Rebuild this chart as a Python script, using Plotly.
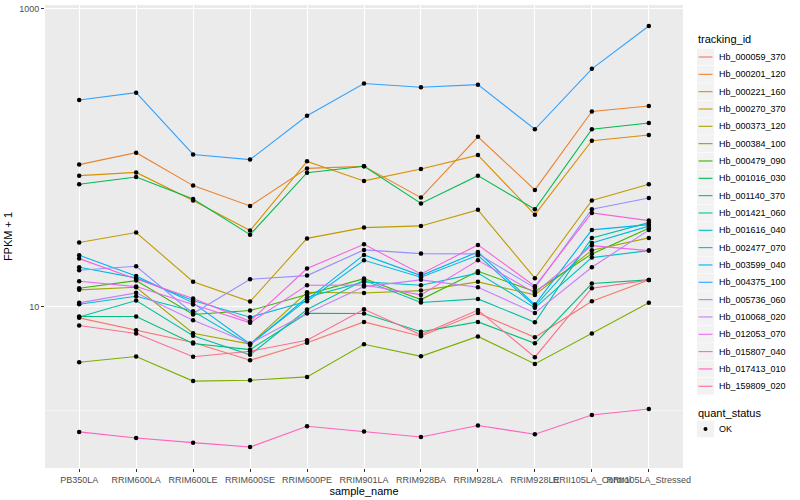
import plotly.graph_objects as go

samples = ["PB350LA", "RRIM600LA", "RRIM600LE", "RRIM600SE", "RRIM600PE", "RRIM901LA",
           "RRIM928BA", "RRIM928LA", "RRIM928LE", "RRII105LA_Control", "RRII105LA_Stressed"]

tracking_ids = ["Hb_000059_370", "Hb_000201_120", "Hb_000221_160", "Hb_000270_370", "Hb_000373_120",
                "Hb_000384_100", "Hb_000479_090", "Hb_001016_030", "Hb_001140_370", "Hb_001421_060",
                "Hb_001616_040", "Hb_002477_070", "Hb_003599_040", "Hb_004375_100", "Hb_005736_060",
                "Hb_010068_020", "Hb_012053_070", "Hb_015807_040", "Hb_017413_010", "Hb_159809_020"]

# FPKM + 1 values per tracking_id, in sample order
hb_000059_370 = [8.40, 6.93, 5.73, 4.36, 5.71, 7.89, 6.32, 9.04, 6.22, 10.85, 15.06]
hb_000201_120 = [89.8, 108, 64.9, 47.4, 84.7, 87.4, 53.9, 138, 60.7, 204, 222]
hb_000221_160 = [75.7, 79.6, 51.6, 32.4, 94.4, 69.8, 83.9, 104, 41.4, 130, 142]
hb_000270_370 = [26.9, 31.4, 14.7, 10.8, 28.7, 33.9, 34.8, 44.6, 15.5, 51.6, 66.2]
hb_000373_120 = [12.95, 13.48, 6.62, 5.60, 12.47, 12.32, 12.80, 14.65, 11.98, 23.87, 28.92]
hb_000384_100 = [4.23, 4.62, 3.16, 3.20, 3.37, 5.58, 4.63, 6.30, 4.12, 6.59, 10.6]
hb_000479_090 = [13.27, 14.94, 8.84, 9.40, 12.04, 15.41, 11.14, 17.25, 12.61, 22.58, 33.54]
hb_001016_030 = [66.2, 74.2, 52.8, 30.4, 79.3, 87.5, 49.3, 75.7, 45.0, 155, 171]
hb_001140_370 = [8.57, 8.57, 5.65, 5.14, 9.02, 8.98, 6.77, 7.89, 5.67, 14.27, 15.1]
hb_001421_060 = [8.50, 10.97, 6.36, 4.74, 9.55, 15.01, 10.64, 11.26, 7.85, 28.92, 36.63]
hb_001616_040 = [10.36, 11.73, 9.30, 5.53, 11.54, 14.65, 13.90, 16.78, 9.80, 21.32, 23.75]
hb_002477_070 = [18.36, 15.58, 10.97, 8.48, 10.85, 20.45, 15.73, 22.10, 10.05, 26.76, 34.69]
hb_003599_040 = [22.10, 16.07, 10.59, 5.60, 11.14, 22.23, 16.14, 23.28, 10.31, 32.72, 35.50]
hb_004375_100 = [244, 273, 105, 97, 191, 315, 297, 309, 155, 395, 766]
hb_005736_060 = [17.52, 18.64, 8.98, 15.25, 16.14, 24.01, 22.68, 22.58, 13.35, 44.98, 53.63]
hb_010068_020 = [10.59, 12.36, 8.09, 5.65, 9.02, 13.62, 15.11, 13.48, 9.07, 18.36, 32.62]
hb_012053_070 = [14.78, 13.62, 10.31, 7.78, 13.90, 13.95, 11.98, 20.45, 12.36, 25.67, 23.75]
hb_015807_040 = [20.99, 15.30, 11.32, 7.97, 17.99, 26.19, 16.58, 25.95, 13.69, 42.55, 37.78]
hb_017413_010 = [1.44, 1.31, 1.22, 1.14, 1.57, 1.45, 1.33, 1.59, 1.39, 1.87, 2.05]
hb_159809_020 = [7.46, 6.59, 4.60, 5.01, 5.94, 9.59, 6.46, 9.47, 4.57, 13.27, 15.06]

series = [hb_000059_370, hb_000201_120, hb_000221_160, hb_000270_370, hb_000373_120,
          hb_000384_100, hb_000479_090, hb_001016_030, hb_001140_370, hb_001421_060,
          hb_001616_040, hb_002477_070, hb_003599_040, hb_004375_100, hb_005736_060,
          hb_010068_020, hb_012053_070, hb_015807_040, hb_017413_010, hb_159809_020]

colors = ["#F8766D", "#EA8331", "#D89000", "#C09B00", "#A3A500", "#7CAE00", "#39B600", "#00BB4E",
          "#00BF7D", "#00C1A3", "#00BFC4", "#00BAE0", "#00B0F6", "#35A2FF", "#9590FF", "#C77CFF",
          "#E76BF3", "#FA62DB", "#FF62BC", "#FF6C91"]

quant_status = "OK"

FONT = "Liberation Sans, Arial, Helvetica, sans-serif"

# plot area in pixels (for placing the hand-drawn legend)
L, R, T, B = 45, 683, 5, 468


def px(xp):
    return (xp - L) / (R - L)


def py(yp):
    return (B - yp) / (B - T)


fig = go.Figure()
for name, vals, col in zip(tracking_ids, series, colors):
    fig.add_trace(go.Scatter(x=samples, y=vals, mode="lines", name=name,
                             line=dict(color=col, width=1.1), showlegend=False))

all_x = [s for vals in series for s in samples]
all_y = [v for vals in series for v in vals]
fig.add_trace(go.Scatter(x=all_x, y=all_y, mode="markers", name=quant_status,
                         marker=dict(color="black", size=4.5, symbol="circle"),
                         showlegend=False))

# minor grid lines (log units for shapes on log axis)
for lv in [0, 2]:
    fig.add_shape(type="line", xref="paper", yref="y", x0=0, x1=1, y0=lv, y1=lv,
                  line=dict(color="white", width=0.55), layer="below")

annots = []
# legend: tracking_id
annots.append(dict(x=px(696), y=py(39), xref="paper", yref="paper", text="tracking_id",
                   showarrow=False, xanchor="left", yanchor="middle",
                   font=dict(family=FONT, size=11, color="black")))
step = 17.33
for i, (name, col) in enumerate(zip(tracking_ids, colors)):
    cy = 57 + step * i
    fig.add_shape(type="rect", xref="paper", yref="paper",
                  x0=px(697), x1=px(714), y0=py(cy - 8.4), y1=py(cy + 8.4),
                  fillcolor="#F2F2F2", line=dict(width=0))
    fig.add_shape(type="line", xref="paper", yref="paper",
                  x0=px(698.5), x1=px(712.5), y0=py(cy), y1=py(cy),
                  line=dict(color=col, width=1.1))
    annots.append(dict(x=px(716.5), y=py(cy), xref="paper", yref="paper", text=name,
                       showarrow=False, xanchor="left", yanchor="middle",
                       font=dict(family=FONT, size=9, color="black")))

# legend: quant_status
annots.append(dict(x=px(696), y=py(412.5), xref="paper", yref="paper", text="quant_status",
                   showarrow=False, xanchor="left", yanchor="middle",
                   font=dict(family=FONT, size=11, color="black")))
cy = 429
fig.add_shape(type="rect", xref="paper", yref="paper",
              x0=px(697), x1=px(714), y0=py(cy - 8.4), y1=py(cy + 8.4),
              fillcolor="#F2F2F2", line=dict(width=0))
fig.add_shape(type="circle", xref="paper", yref="paper",
              x0=px(703.5), x1=px(707.5), y0=py(cy + 2), y1=py(cy - 2),
              fillcolor="black", line=dict(width=0))
annots.append(dict(x=px(716.5), y=py(cy), xref="paper", yref="paper", text=quant_status,
                   showarrow=False, xanchor="left", yanchor="middle",
                   font=dict(family=FONT, size=9, color="black")))

fig.update_layout(
    width=800, height=500,
    margin=dict(l=L, r=800 - R, t=T, b=500 - B, autoexpand=False),
    paper_bgcolor="white", plot_bgcolor="#EBEBEB",
    font=dict(family=FONT, size=9, color="#4D4D4D"),
    xaxis=dict(
        type="category", categoryorder="array", categoryarray=samples,
        range=[-0.6, 10.6], showgrid=True, gridcolor="white", gridwidth=1.1,
        zeroline=False, showline=False, automargin=False, tickangle=0,
        ticks="outside", ticklen=3, tickcolor="#333333", tickwidth=1,
        tickfont=dict(family=FONT, size=9, color="#4D4D4D"),
        title=dict(text="sample_name", font=dict(family=FONT, size=11, color="black"), standoff=2),
    ),
    yaxis=dict(
        type="log", range=[-0.084, 3.025],
        tickvals=[10, 1000], ticktext=["10", "1000"],
        showgrid=True, gridcolor="white", gridwidth=1.1,
        zeroline=False, showline=False, automargin=False,
        ticks="outside", ticklen=3, tickcolor="#333333", tickwidth=1,
        tickfont=dict(family=FONT, size=9, color="#4D4D4D"),
        title=dict(text="FPKM + 1", font=dict(family=FONT, size=11, color="black"), standoff=4),
    ),
    annotations=annots,
    showlegend=False,
)

fig.write_html("out.html", config={"displayModeBar": False},
               post_script="document.body.style.margin='0';document.body.style.padding='0';")
